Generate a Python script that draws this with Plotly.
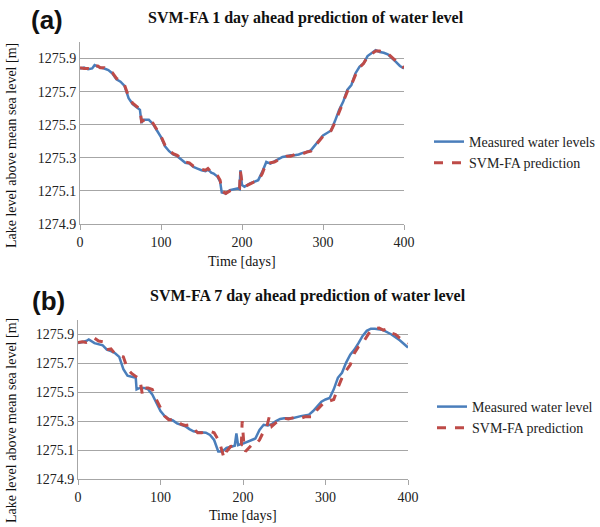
import plotly.graph_objects as go

# ---- Panel (a): 1 day ahead ----
days_a = [0, 5, 10, 15, 18, 22, 25, 30, 35, 40, 45, 50, 55, 60, 65, 70, 74, 76, 78, 85, 90, 95,
          100, 105, 110, 115, 120, 125, 130, 135, 140, 145, 150, 155, 158, 162, 165, 170, 173, 175,
          180, 185, 190, 195, 197, 198, 200, 203, 210, 215, 220, 225, 230, 235, 240, 245, 250, 255,
          260, 265, 270, 275, 280, 285, 290, 295, 300, 305, 310, 315, 320, 325, 330, 335, 340, 345,
          350, 355, 360, 365, 370, 375, 380, 385, 390, 395, 400]
measured_a = [1275.84, 1275.845, 1275.835, 1275.84, 1275.86, 1275.85, 1275.845, 1275.84, 1275.83,
              1275.81, 1275.775, 1275.76, 1275.735, 1275.66, 1275.625, 1275.605, 1275.59, 1275.51,
              1275.53, 1275.53, 1275.505, 1275.465, 1275.425, 1275.37, 1275.34, 1275.32, 1275.31,
              1275.29, 1275.27, 1275.265, 1275.245, 1275.235, 1275.225, 1275.22, 1275.23, 1275.21,
              1275.205, 1275.185, 1275.155, 1275.09, 1275.085, 1275.105, 1275.11, 1275.115, 1275.11,
              1275.225, 1275.135, 1275.125, 1275.145, 1275.155, 1275.165, 1275.215, 1275.275,
              1275.265, 1275.28, 1275.295, 1275.305, 1275.31, 1275.315, 1275.315, 1275.32, 1275.33,
              1275.335, 1275.345, 1275.375, 1275.405, 1275.435, 1275.45, 1275.465, 1275.525,
              1275.59, 1275.64, 1275.71, 1275.74, 1275.81, 1275.85, 1275.87, 1275.915, 1275.935,
              1275.95, 1275.94, 1275.935, 1275.925, 1275.905, 1275.88, 1275.855, 1275.84]
predicted_a = [1275.845, 1275.84, 1275.84, 1275.835, 1275.855, 1275.855, 1275.845, 1275.845, 1275.825,
               1275.815, 1275.78, 1275.765, 1275.74, 1275.67, 1275.63, 1275.61, 1275.595, 1275.52,
               1275.525, 1275.535, 1275.51, 1275.47, 1275.43, 1275.375, 1275.345, 1275.325, 1275.315,
               1275.295, 1275.275, 1275.27, 1275.25, 1275.24, 1275.23, 1275.225, 1275.235, 1275.215,
               1275.21, 1275.19, 1275.165, 1275.1, 1275.085, 1275.1, 1275.11, 1275.115, 1275.115,
               1275.22, 1275.15, 1275.125, 1275.14, 1275.155, 1275.16, 1275.205, 1275.27,
               1275.27, 1275.275, 1275.29, 1275.3, 1275.31, 1275.31, 1275.32, 1275.315, 1275.325,
               1275.335, 1275.34, 1275.37, 1275.4, 1275.43, 1275.445, 1275.465, 1275.515,
               1275.58, 1275.635, 1275.7, 1275.74, 1275.8, 1275.845, 1275.87, 1275.91, 1275.93,
               1275.945, 1275.945, 1275.935, 1275.93, 1275.91, 1275.885, 1275.86, 1275.845]

# ---- Panel (b): 7 day ahead ----
days_bm = [0, 10, 13, 20, 30, 35, 40, 45, 50, 55, 60, 65, 70, 71, 75, 80, 85, 90, 95, 100, 105, 110,
           115, 120, 125, 130, 135, 140, 145, 150, 155, 160, 165, 170, 175, 180, 185, 190, 192, 194,
           200, 205, 210, 215, 220, 225, 230, 235, 240, 245, 250, 260, 270, 280, 285, 290, 295, 300,
           305, 310, 315, 320, 325, 330, 335, 340, 345, 350, 355, 360, 365, 370, 380, 390, 400]
measured_b = [1275.84, 1275.855, 1275.865, 1275.84, 1275.825, 1275.795, 1275.785, 1275.77, 1275.745,
              1275.66, 1275.615, 1275.605, 1275.6, 1275.52, 1275.53, 1275.53, 1275.52, 1275.485,
              1275.425, 1275.37, 1275.335, 1275.315, 1275.305, 1275.285, 1275.275, 1275.265, 1275.245,
              1275.23, 1275.225, 1275.22, 1275.22, 1275.205, 1275.17, 1275.09, 1275.09, 1275.115,
              1275.125, 1275.13, 1275.215, 1275.135, 1275.145, 1275.155, 1275.165, 1275.18, 1275.24,
              1275.275, 1275.27, 1275.28, 1275.3, 1275.315, 1275.32, 1275.32, 1275.335, 1275.345,
              1275.37, 1275.4, 1275.435, 1275.45, 1275.46, 1275.52, 1275.6, 1275.635, 1275.705,
              1275.76, 1275.795, 1275.84, 1275.89, 1275.925, 1275.94, 1275.94, 1275.935, 1275.93,
              1275.9, 1275.86, 1275.81]
days_bp = [0, 5, 10, 15, 20, 25, 30, 35, 40, 45, 50, 55, 60, 65, 70, 75, 78, 80, 85, 90, 95, 100,
           105, 110, 115, 120, 125, 130, 135, 140, 145, 150, 155, 160, 165, 170, 173, 177, 180, 185,
           190, 195, 198, 199, 201, 203, 208, 212, 216, 220, 225, 229, 232, 235, 240, 245, 250, 255,
           260, 265, 270, 275, 280, 285, 290, 295, 300, 305, 310, 315, 320, 325, 330, 335, 340, 345,
           350, 355, 360, 365, 370, 375, 380, 385, 390, 395, 400]
predicted_b = [1275.845, 1275.85, 1275.845, 1275.855, 1275.875, 1275.855, 1275.85, 1275.795, 1275.8,
               1275.765, 1275.755, 1275.745, 1275.66, 1275.63, 1275.61, 1275.59, 1275.485, 1275.53,
               1275.53, 1275.52, 1275.45, 1275.39, 1275.335, 1275.31, 1275.31, 1275.3, 1275.28,
               1275.27, 1275.275, 1275.25, 1275.22, 1275.22, 1275.23, 1275.23, 1275.22, 1275.17,
               1275.125, 1275.045, 1275.09, 1275.125, 1275.13, 1275.125, 1275.135, 1275.3, 1275.145,
               1275.09, 1275.125, 1275.145, 1275.145, 1275.17, 1275.23, 1275.265, 1275.335, 1275.265,
               1275.29, 1275.305, 1275.32, 1275.315, 1275.32, 1275.33, 1275.32, 1275.33, 1275.33,
               1275.33, 1275.38, 1275.41, 1275.44, 1275.44, 1275.45, 1275.53, 1275.6, 1275.65,
               1275.69, 1275.77, 1275.815, 1275.84, 1275.885, 1275.93, 1275.94, 1275.945, 1275.93,
               1275.94, 1275.91, 1275.9, 1275.875, 1275.855, 1275.84]

x_ticks = [0, 100, 200, 300, 400]
y_ticks = [1274.9, 1275.1, 1275.3, 1275.5, 1275.7, 1275.9]
y_ticktext = ["1274.9", "1275.1", "1275.3", "1275.5", "1275.7", "1275.9"]

BLUE = "#4a7ebb"
RED = "#be4b48"
SERIF = "Liberation Serif"
TXT = "#222222"

fig = go.Figure()
fig.add_trace(go.Scatter(x=days_a, y=measured_a, mode="lines", name="Measured water levels",
                         line=dict(color=BLUE, width=2.5), xaxis="x", yaxis="y", legend="legend"))
fig.add_trace(go.Scatter(x=days_a, y=predicted_a, mode="lines", name="SVM-FA prediction",
                         line=dict(color=RED, width=3, dash="dash"), xaxis="x", yaxis="y", legend="legend"))
fig.add_trace(go.Scatter(x=days_bm, y=measured_b, mode="lines", name="Measured water level",
                         line=dict(color=BLUE, width=2.5), xaxis="x2", yaxis="y2", legend="legend2"))
fig.add_trace(go.Scatter(x=days_bp, y=predicted_b, mode="lines", name="SVM-FA prediction",
                         line=dict(color=RED, width=3, dash="dash"), xaxis="x2", yaxis="y2", legend="legend2"))

xa = dict(range=[0, 400], tickvals=x_ticks, showgrid=False, zeroline=False, showline=True,
          linecolor="#a6a6a6", linewidth=1, ticks="outside", ticklen=5, tickcolor="#a6a6a6",
          tickfont=dict(family=SERIF, size=14, color=TXT), automargin=False)
ya = dict(range=[1274.9, 1276.0], tickvals=y_ticks, ticktext=y_ticktext, showgrid=True,
          gridcolor="#a6a6a6", gridwidth=1, zeroline=False, showline=True, linecolor="#a6a6a6",
          linewidth=1, ticks="", tickfont=dict(family=SERIF, size=14, color=TXT), automargin=False)

H = 527.0
W = 600.0

def ann(text, x, y, size, family=SERIF, angle=0):
    return dict(text=text, x=x / W, y=1 - y / H, xref="paper", yref="paper", xanchor="center",
                yanchor="middle", showarrow=False, textangle=angle,
                font=dict(family=family, size=size, color="#111111"))

fig.update_layout(
    width=600, height=527,
    margin=dict(l=0, r=0, t=0, b=0),
    paper_bgcolor="white", plot_bgcolor="white",
    xaxis=dict(xa, domain=[80 / W, 404 / W], anchor="y"),
    yaxis=dict(ya, domain=[1 - 224 / H, 1 - 42 / H], anchor="x"),
    xaxis2=dict(xa, domain=[78 / W, 408 / W], anchor="y2"),
    yaxis2=dict(ya, domain=[1 - 479 / H, 1 - 320 / H], anchor="x2"),
    legend=dict(x=0.715, y=1 - 126 / H, xanchor="left", yanchor="top", bgcolor="rgba(0,0,0,0)",
                font=dict(family=SERIF, size=14, color=TXT), tracegroupgap=2, itemwidth=30),
    legend2=dict(x=0.72, y=1 - 391 / H, xanchor="left", yanchor="top", bgcolor="rgba(0,0,0,0)",
                 font=dict(family=SERIF, size=14, color=TXT), tracegroupgap=2, itemwidth=30),
    annotations=[
        ann("<b>(a)</b>", 47, 20, 26, family="Liberation Sans"),
        ann("<b>SVM-FA 1 day ahead prediction of water level</b>", 306, 18, 16),
        ann("<b>(b)</b>", 48, 301, 26, family="Liberation Sans"),
        ann("<b>SVM-FA 7 day ahead prediction of water level</b>", 308, 296, 16),
        ann("Time [days]", 242, 261, 14),
        ann("Time [days]", 243, 515, 14),
        ann("Lake level above mean sea level [m]", 11, 146, 14, angle=-90),
        ann("Lake level above mean sea level [m]", 11, 421, 14, angle=-90),
    ],
)

fig.write_html("out.html", config={"displayModeBar": False},
               post_script="document.body.style.margin='0';")
